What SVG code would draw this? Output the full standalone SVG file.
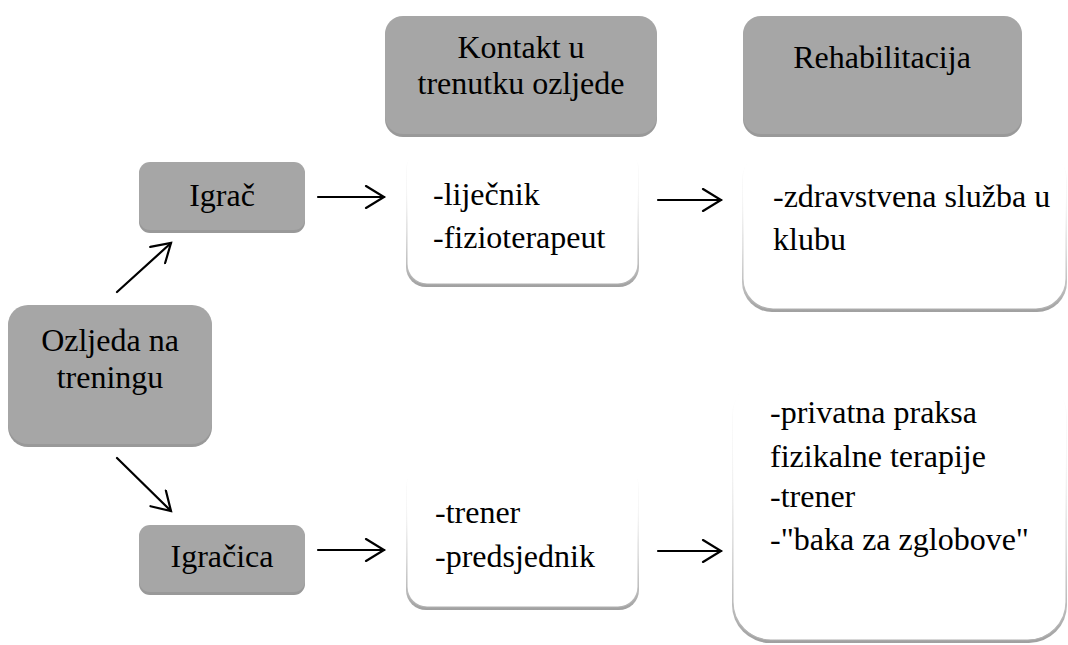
<svg xmlns="http://www.w3.org/2000/svg" width="1068" height="645" viewBox="0 0 1068 645">
<defs>
<linearGradient id="edge" x1="0" y1="0" x2="0" y2="1">
<stop offset="0" stop-color="#ffffff" stop-opacity="0"/>
<stop offset="0.25" stop-color="#ffffff" stop-opacity="0"/>
<stop offset="0.55" stop-color="#d8d8d8" stop-opacity="0.7"/>
<stop offset="1" stop-color="#b0b0b0"/>
</linearGradient>
<linearGradient id="shad" x1="0" y1="0" x2="0" y2="1">
<stop offset="0" stop-color="#a0a0a0" stop-opacity="0"/>
<stop offset="0.6" stop-color="#a0a0a0" stop-opacity="0.2"/>
<stop offset="1" stop-color="#a0a0a0"/>
</linearGradient>
<marker id="ah" markerWidth="24" markerHeight="24" refX="20" refY="12" orient="auto" markerUnits="userSpaceOnUse">
<path d="M2,1 L20,12 L2,23" fill="none" stroke="#000" stroke-width="2.2" stroke-linecap="round"/>
</marker>
</defs>
<g id="connectors" stroke="#000" stroke-width="2.2" fill="none" stroke-linecap="round">
<line x1="117" y1="292" x2="171" y2="243" marker-end="url(#ah)"/>
<line x1="117" y1="458" x2="171" y2="511" marker-end="url(#ah)"/>
<line x1="318" y1="197" x2="384" y2="197" marker-end="url(#ah)"/>
<line x1="318" y1="550" x2="384" y2="550" marker-end="url(#ah)"/>
<line x1="658" y1="200" x2="721" y2="200" marker-end="url(#ah)"/>
<line x1="658" y1="551" x2="721" y2="551" marker-end="url(#ah)"/>
</g>
<g id="node-kontakt">
<rect fill="#999999" x="385" y="18" width="272" height="119" rx="18"/>
<rect fill="#a6a6a6" x="385" y="16" width="272" height="118" rx="18"/>
<text x="521" y="58" font-family="Times New Roman" font-size="32" text-anchor="middle">Kontakt u</text>
<text x="521" y="94" font-family="Times New Roman" font-size="32" text-anchor="middle">trenutku ozljede</text>
</g>
<g id="node-rehab">
<rect fill="#999999" x="743" y="18" width="279" height="119" rx="18"/>
<rect fill="#a6a6a6" x="743" y="16" width="279" height="118" rx="18"/>
<text x="882" y="68" font-family="Times New Roman" font-size="32" text-anchor="middle">Rehabilitacija</text>
</g>
<g id="node-ozljeda">
<rect fill="#999999" x="8" y="307" width="204" height="140" rx="20"/>
<rect fill="#a6a6a6" x="8" y="305" width="204" height="139" rx="20"/>
<text x="110" y="351" font-family="Times New Roman" font-size="32" text-anchor="middle">Ozljeda na</text>
<text x="110" y="388" font-family="Times New Roman" font-size="32" text-anchor="middle">treningu</text>
</g>
<g id="node-igrac">
<rect fill="#999999" x="139" y="164" width="166" height="69" rx="11"/>
<rect fill="#a6a6a6" x="139" y="162" width="166" height="68" rx="11"/>
<text x="222" y="206" font-family="Times New Roman" font-size="32" text-anchor="middle">Igrač</text>
</g>
<g id="node-igracica">
<rect fill="#999999" x="139" y="527" width="166" height="68" rx="11"/>
<rect fill="#a6a6a6" x="139" y="525" width="166" height="67" rx="11"/>
<text x="222" y="567" font-family="Times New Roman" font-size="32" text-anchor="middle">Igračica</text>
</g>
<g id="node-kontakt-igrac">
<rect fill="url(#shad)" x="406" y="150" width="233" height="137" rx="20"/>
<rect fill="#ffffff" stroke="url(#edge)" stroke-width="1.2" x="407" y="148" width="231" height="136" rx="20"/>
<text x="433" y="205" font-family="Times New Roman" font-size="32">-liječnik</text>
<text x="433" y="248" font-family="Times New Roman" font-size="32">-fizioterapeut</text>
</g>
<g id="node-kontakt-igracica">
<rect fill="url(#shad)" x="406" y="467" width="233" height="143" rx="20"/>
<rect fill="#ffffff" stroke="url(#edge)" stroke-width="1.2" x="407" y="465" width="231" height="142" rx="20"/>
<text x="435" y="523" font-family="Times New Roman" font-size="32">-trener</text>
<text x="435" y="567" font-family="Times New Roman" font-size="32">-predsjednik</text>
</g>
<g id="node-rehab-igrac">
<rect fill="url(#shad)" x="742" y="150" width="325" height="162" rx="30"/>
<rect fill="#ffffff" stroke="url(#edge)" stroke-width="1.2" x="743" y="148" width="323" height="161" rx="30"/>
<text x="773" y="207" font-family="Times New Roman" font-size="32">-zdravstvena služba u</text>
<text x="773" y="250" font-family="Times New Roman" font-size="32">klubu</text>
</g>
<g id="node-rehab-igracica">
<rect fill="url(#shad)" x="732" y="378" width="335" height="265" rx="38"/>
<rect fill="#ffffff" stroke="url(#edge)" stroke-width="1.2" x="733" y="376" width="333" height="264" rx="38"/>
<text x="770" y="423" font-family="Times New Roman" font-size="32">-privatna praksa</text>
<text x="770" y="467" font-family="Times New Roman" font-size="32">fizikalne terapije</text>
<text x="770" y="507" font-family="Times New Roman" font-size="32">-trener</text>
<text x="770" y="550" font-family="Times New Roman" font-size="32">-"baka za zglobove"</text>
</g>
</svg>
